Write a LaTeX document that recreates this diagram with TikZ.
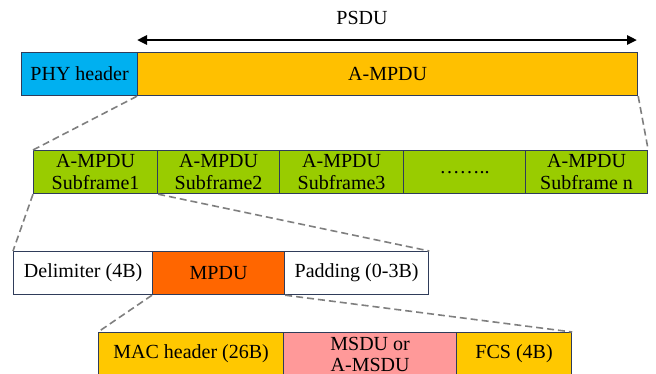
\documentclass[tikz,border=0pt]{standalone}
\usepackage{fontspec}
\setmainfont{Liberation Serif}
\usetikzlibrary{arrows.meta}
\definecolor{phy}{HTML}{00B0F0}
\definecolor{ampdu}{HTML}{FFC000}
\definecolor{sub}{HTML}{99CC00}
\definecolor{mpdu}{HTML}{FF6600}
\definecolor{mac}{HTML}{FFC800}
\definecolor{msdu}{HTML}{FF9999}
\definecolor{edge}{HTML}{2F3C5A}
\definecolor{guide}{HTML}{7F7F7F}
\begin{document}
\begin{tikzpicture}[x=1pt,y=-1pt,
  field/.style={draw=edge, line width=1.2pt, inner sep=0pt, anchor=north west,
    minimum height=43pt, font=\fontsize{20}{22}\selectfont, align=center},
  zoomline/.style={draw=guide, line width=1.6pt, dash pattern=on 7pt off 4pt},
  span/.style={line width=2.5pt, {Triangle[length=10pt,width=9pt]}-{Triangle[length=10pt,width=9pt]}}]
\useasboundingbox (0,0) rectangle (656,373);
\clip (0,0) rectangle (656,373);

% PPDU: PHY header + A-MPDU
\node[field, fill=phy, minimum width=116pt] (phy) at (21,52) {PHY header};
\node[field, fill=ampdu, minimum width=500pt] (ampdu) at (137,52) {A-MPDU};

% PSDU span arrow
\coordinate (psduL) at (137,40);
\coordinate (psduR) at (637,40);
\draw[span] (psduL) -- (psduR);
\node[font=\fontsize{20}{22}\selectfont] (psdu) at (362,18) {PSDU};

% A-MPDU subframes
\node[field, fill=sub, minimum width=124pt] (sf1) at (33,150) {A-MPDU\\Subframe1};
\node[field, fill=sub, minimum width=122pt] (sf2) at (157,150) {A-MPDU\\Subframe2};
\node[field, fill=sub, minimum width=124pt] (sf3) at (279,150) {A-MPDU\\Subframe3};
\node[field, fill=sub, minimum width=122pt] (sfd) at (403,150) {\dots\dots..};
\node[field, fill=sub, minimum width=122pt] (sfn) at (525,150) {A-MPDU\\Subframe n};

% Subframe contents
\node[field, fill=white, minimum width=139pt] (delim) at (13,251) {Delimiter (4B)};
\node[field, fill=mpdu, minimum width=132pt] (mpdu) at (152,251) {MPDU};
\node[field, fill=white, minimum width=144pt] (pad) at (284,251) {Padding (0-3B)};

% MPDU contents
\node[field, fill=mac, minimum width=185pt] (mac) at (98,332) {MAC header (26B)};
\node[field, fill=msdu, minimum width=173pt, font=\fontsize{20}{21}\selectfont] (msdu) at (283,332) {MSDU or\\A-MSDU};
\node[field, fill=mac, minimum width=115pt] (fcs) at (456,332) {FCS (4B)};

% Expansion guides
\draw[zoomline] (ampdu.south west) -- (sf1.north west);
\draw[zoomline] (ampdu.south east) -- (sfn.north east);
\draw[zoomline] (sf1.south west) -- (delim.north west);
\draw[zoomline] (sf1.south east) -- (pad.north east);
\draw[zoomline] (mpdu.south west) -- (mac.north west);
\draw[zoomline] (mpdu.south east) -- (fcs.north east);
\end{tikzpicture}
\end{document}
